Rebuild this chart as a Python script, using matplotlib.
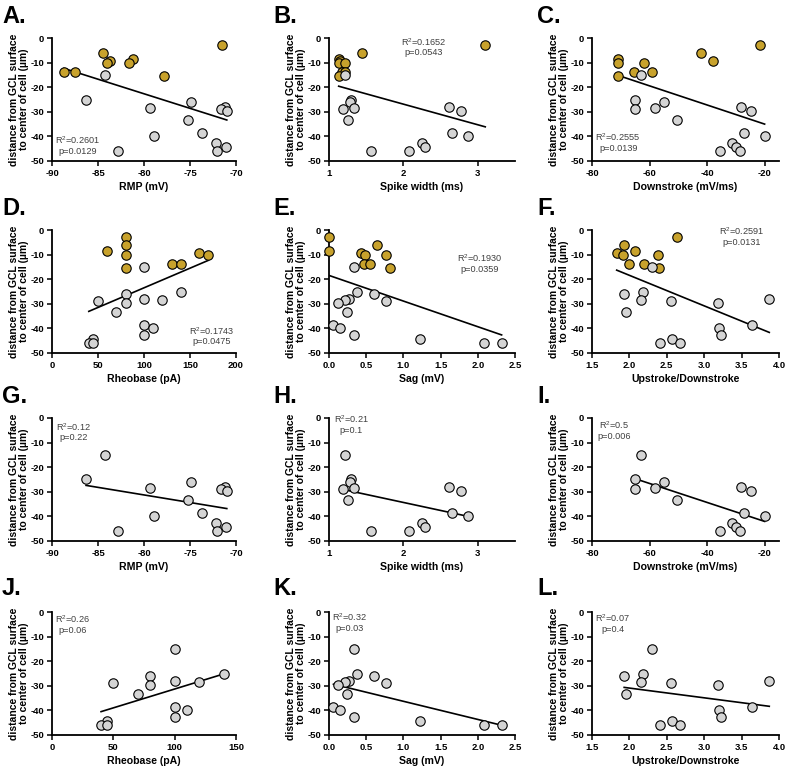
import numpy as np
import matplotlib
matplotlib.use("Agg")
import matplotlib.pyplot as plt

plt.rcParams['font.family'] = ['Liberation Sans', 'DejaVu Sans']
plt.rcParams['mathtext.fontset'] = 'custom'
plt.rcParams['mathtext.rm'] = 'Liberation Sans'

# ---- data: grey cells (14) ----
grey_y = [-15, -25, -26, -28, -28.5, -29, -29.5, -33.5, -38.5, -40, -42.5, -44.5, -46, -46]
grey_rmp = [-84.2, -86.3, -74.9, -71.2, -79.3, -71.6, -71.0, -75.2, -73.7, -78.9, -72.2, -71.1, -82.8, -72.1]
grey_spike = [1.22, 1.30, 1.28, 2.61, 1.34, 1.19, 2.77, 1.26, 2.65, 2.87, 2.25, 2.29, 1.57, 2.08]
grey_down = [-63, -65, -55, -28.3, -58, -65, -24.8, -50.5, -27, -20, -31.3, -30, -35.5, -28.7]
grey_rheo = [100, 140, 80, 100, 120, 50, 80, 70, 100, 110, 100, 45, 40, 45]
grey_sag = [0.34, 0.37, 0.61, 0.27, 0.22, 0.76, 0.12, 0.24, 0.06, 0.15, 0.34, 1.22, 2.08, 2.32]
grey_ud = [2.30, 2.18, 1.93, 3.87, 2.16, 2.55, 3.19, 1.96, 3.64, 3.20, 3.23, 2.57, 2.41, 2.67]

# ---- data: gold cells (9) ----
gold_y = [-3, -6, -8.5, -9.5, -10.2, -10.2, -14, -14, -15.5]
gold_rmp = [-71.5, -84.5, -81.2, -83.7, -84.0, -81.6, -88.7, -87.5, -77.8]
gold_spike = [3.10, 1.44, 1.14, 1.15, 1.13, 1.21, 1.17, 1.22, 1.13]
gold_down = [-21.7, -42, -70.8, -38, -71, -62, -65.5, -59, -70.8]
gold_rheo = [80, 80, 60, 160, 80, 170, 130, 140, 80]
gold_sag = [0.0, 0.64, 0.0, 0.43, 0.49, 0.76, 0.47, 0.55, 0.82]
gold_ud = [2.63, 1.93, 2.07, 1.83, 1.91, 2.38, 2.00, 2.20, 2.40]

letters = ['A.', 'B.', 'C.', 'D.', 'E.', 'F.', 'G.', 'H.', 'I.', 'J.', 'K.', 'L.']
xlabels = ['RMP (mV)', 'Spike width (ms)', 'Downstroke (mV/ms)',
           'Rheobase (pA)', 'Sag (mV)', 'Upstroke/Downstroke']
stats_top = ['R$^2$=0.2601\np=0.0129', 'R$^2$=0.1652\np=0.0543', 'R$^2$=0.2555\np=0.0139',
             'R$^2$=0.1743\np=0.0475', 'R$^2$=0.1930\np=0.0359', 'R$^2$=0.2591\np=0.0131']
stats_bot = ['R$^2$=0.12\np=0.22', 'R$^2$=0.21\np=0.1', 'R$^2$=0.5\np=0.006',
             'R$^2$=0.26\np=0.06', 'R$^2$=0.32\np=0.03', 'R$^2$=0.07\np=0.4']

grey_x = [grey_rmp, grey_spike, grey_down, grey_rheo, grey_sag, grey_ud]
gold_x = [gold_rmp, gold_spike, gold_down, gold_rheo, gold_sag, gold_ud]

xlims = [(-90, -70), (1, 3.5), (-80, -15), (0, 200), (0, 2.5), (1.5, 4.0)]
xlims_bot = [(-90, -70), (1, 3.5), (-80, -15), (0, 150), (0, 2.5), (1.5, 4.0)]
xticks = [np.arange(-90, -69, 5), [1, 2, 3], [-80, -60, -40, -20], np.arange(0, 201, 50),
          np.arange(0, 2.51, 0.5), np.arange(1.5, 4.01, 0.5)]
xticks_bot = [np.arange(-90, -69, 5), [1, 2, 3], [-80, -60, -40, -20], np.arange(0, 151, 50),
              np.arange(0, 2.51, 0.5), np.arange(1.5, 4.01, 0.5)]
fmt_dec = [False, False, False, False, True, True]

stat_pos_top = [(0.14, 0.13), (0.51, 0.93), (0.14, 0.155), (0.87, 0.14), (0.81, 0.73), (0.80, 0.95)]
stat_pos_bot = [(0.12, 0.89), (0.12, 0.95), (0.12, 0.90), (0.11, 0.90), (0.11, 0.92), (0.11, 0.91)]

W, H = 786, 770
fig = plt.figure(figsize=(W / 100, H / 100), dpi=100)

col_left = [52, 329, 592]
col_w = [184, 186, 187]
row_top = [38, 230, 418, 612]
row_h = 123

GREY = '#d4d4d4'
GOLD = '#c8a22c'

letter_pos = [(2, 5), (273, 5), (537, 5), (2, 197), (273, 197), (537, 197),
              (2, 385), (273, 385), (537, 385), (2, 577), (273, 577), (537, 577)]

for idx in range(12):
    r, c = divmod(idx, 3)
    m = idx % 6
    bottom_half = idx >= 6
    left = col_left[c] / W
    bottom = 1 - (row_top[r] + row_h) / H
    ax = fig.add_axes([left, bottom, col_w[c] / W, row_h / H])

    gx = np.array(grey_x[m], dtype=float)
    gy = np.array(grey_y, dtype=float)
    if not bottom_half:
        kx = np.array(gold_x[m], dtype=float)
        ky = np.array(gold_y, dtype=float)
        allx = np.concatenate([gx, kx])
        ally = np.concatenate([gy, ky])
    else:
        allx, ally = gx, gy

    slope, inter = np.polyfit(allx, ally, 1)
    xx = np.array([allx.min(), allx.max()])
    ax.plot(xx, slope * xx + inter, color='black', lw=1.2, zorder=2)

    if not bottom_half:
        ax.scatter(kx, ky, s=46, facecolor=GOLD, edgecolor='black', linewidth=0.8,
                   zorder=3, clip_on=False)
    ax.scatter(gx, gy, s=46, facecolor=GREY, edgecolor='black', linewidth=0.8,
               zorder=4, clip_on=False)

    xl = xlims_bot[m] if bottom_half else xlims[m]
    xt = xticks_bot[m] if bottom_half else xticks[m]
    ax.set_xlim(*xl)
    ax.set_ylim(-50, 0)
    ax.set_xticks(xt)
    if fmt_dec[m]:
        ax.set_xticklabels([f'{v:.1f}' for v in xt])
    else:
        ax.set_xticklabels([f'{v:g}' for v in xt])
    ax.set_yticks(np.arange(-50, 1, 10))
    ax.set_yticklabels([f'{v:g}' for v in np.arange(-50, 1, 10)])

    for s in ['top', 'right']:
        ax.spines[s].set_visible(False)
    for s in ['left', 'bottom']:
        ax.spines[s].set_linewidth(1.3)
    ax.tick_params(axis='both', direction='out', length=3.5, width=1.1, pad=2,
                   labelsize=6.8)
    for lab in ax.get_xticklabels() + ax.get_yticklabels():
        lab.set_fontweight('bold')

    ax.set_xlabel(xlabels[m], fontsize=7.6, fontweight='bold', labelpad=3)
    ax.set_ylabel('distance from GCL surface\nto center of cell (µm)', fontsize=7.5,
                  fontweight='bold', labelpad=1, linespacing=1.05)

    sp = stat_pos_bot[m] if bottom_half else stat_pos_top[m]
    ax.text(sp[0], sp[1], stats_bot[m] if bottom_half else stats_top[m],
            transform=ax.transAxes, ha='center', va='center', fontsize=6.6,
            color='#404040', linespacing=1.1)

    lx, ly = letter_pos[idx]
    fig.text(lx / W, 1 - ly / H, letters[idx], fontsize=17, fontweight='bold',
             ha='left', va='top')

fig.savefig('out.png', dpi=100)
